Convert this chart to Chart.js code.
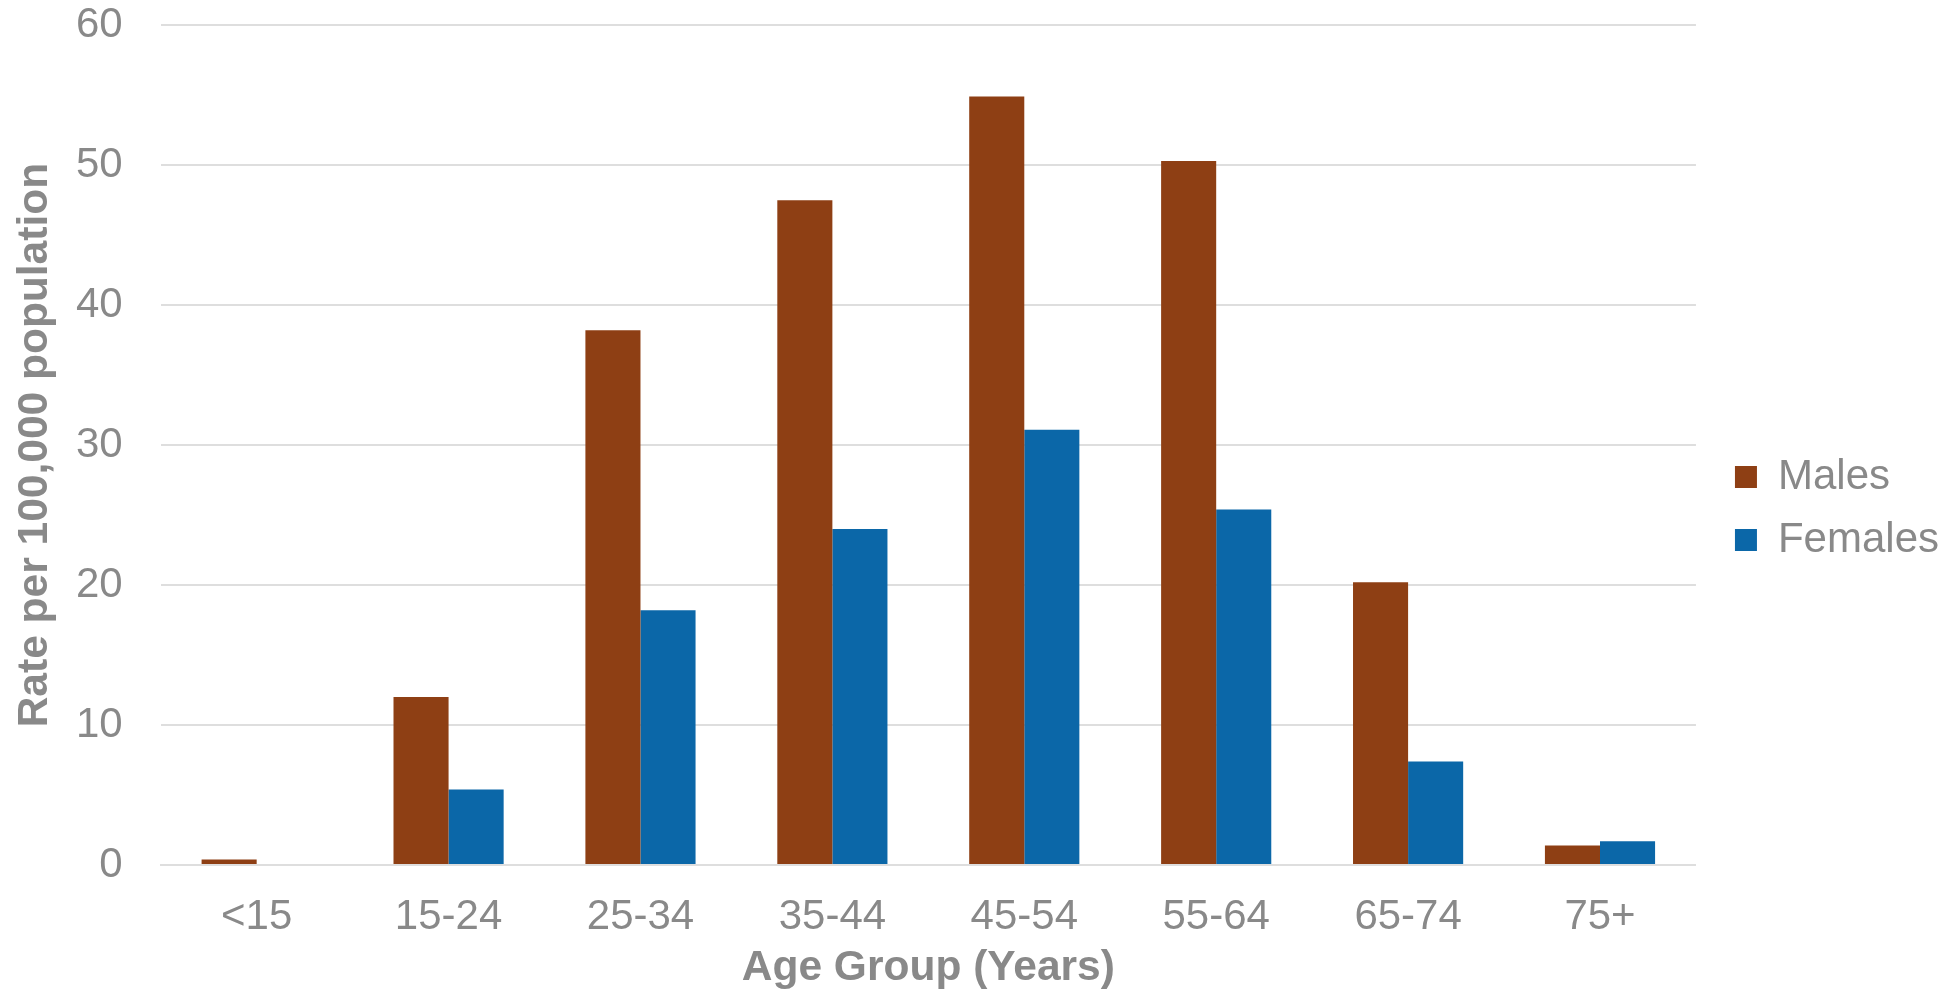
<!DOCTYPE html>
<html>
<head>
<meta charset="utf-8">
<script src="https://cdn.jsdelivr.net/npm/chart.js@4/dist/chart.umd.min.js"></script>
<style>
  html, body { margin: 0; padding: 0; background: #ffffff; }
  #wrap { width: 1949px; height: 996px; position: relative; }
</style>
</head>
<body>
<div id="wrap"><canvas id="c" width="1949" height="996"></canvas></div>
<script>
const categories = ['<15', '15-24', '25-34', '35-44', '45-54', '55-64', '65-74', '75+'];
const males = [0.4, 12.0, 38.2, 47.5, 54.9, 50.3, 20.2, 1.4];
const females = [0, 5.4, 18.2, 24.0, 31.1, 25.4, 7.4, 1.7];
const seriesNames = ['Males', 'Females'];
const yTicks = [0, 10, 20, 30, 40, 50, 60];
const xTitle = 'Age Group (Years)';
const yTitle = 'Rate per 100,000 population';

const GREY = '#898989';
const GRID = '#dedede';
const FONT = "'Liberation Sans', Arial, sans-serif";

new Chart(document.getElementById('c'), {
  type: 'bar',
  data: {
    labels: categories,
    datasets: [
      { label: seriesNames[0], data: males, backgroundColor: '#8e3f14', borderWidth: 0 },
      { label: seriesNames[1], data: females, backgroundColor: '#0b67a8', borderWidth: 0 }
    ]
  },
  options: {
    responsive: false,
    animation: false,
    devicePixelRatio: 1,
    layout: { padding: { top: 0, right: 0, bottom: 0, left: 0 } },
    datasets: { bar: { categoryPercentage: 0.574, barPercentage: 1.0 } },
    plugins: {
      tooltip: { enabled: false },
      legend: {
        position: 'right',
        align: 'center',
        title: { display: true, text: ' ', font: { size: 10, family: FONT }, padding: 4.5 },
        labels: {
          color: GREY,
          font: { size: 42, family: FONT },
          boxWidth: 22,
          boxHeight: 22,
          padding: 21
        }
      }
    },
    scales: {
      x: {
        grid: { display: true, color: 'rgba(0,0,0,0)', drawOnChartArea: false, drawTicks: true, tickLength: 27, tickColor: 'rgba(0,0,0,0)' },
        border: { display: true, color: GRID, width: 2 },
        ticks: { color: GREY, font: { size: 42, family: FONT }, padding: 0, maxRotation: 0 },
        title: { display: true, text: xTitle, color: GREY, font: { size: 42.5, weight: 'bold', family: FONT }, padding: { top: 0.6, bottom: 2 } }
      },
      y: {
        min: 0,
        max: 60,
        afterBuildTicks: (s) => { s.ticks = yTicks.map(v => ({ value: v })); },
        grid: { color: GRID, lineWidth: 2, drawTicks: true, tickLength: 38, tickColor: 'rgba(0,0,0,0)' },
        border: { display: false },
        ticks: { color: GREY, font: { size: 42, family: FONT }, padding: 0 },
        title: { display: true, text: yTitle, color: GREY, font: { size: 42.5, weight: 'bold', family: FONT }, padding: { top: 10, bottom: 15 } }
      },
      gap: {
        type: 'linear',
        position: 'right',
        display: true,
        grid: { display: false, drawTicks: false },
        border: { display: false },
        ticks: { display: false },
        afterFit: (s) => { s.width = 18; }
      }
    }
  }
});
</script>
</body>
</html>
